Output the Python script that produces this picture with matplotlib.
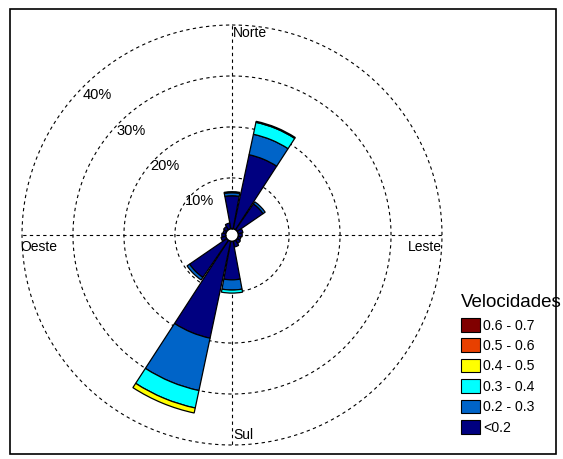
import numpy as np
import matplotlib
matplotlib.use("Agg")
import matplotlib.pyplot as plt
from matplotlib.patches import Patch, Rectangle

plt.rcParams['font.family'] = ['Liberation Sans', 'DejaVu Sans']

# Wind directions (16 sectors, clockwise from north)
directions = ["N", "NNE", "NE", "ENE", "E", "ESE", "SE", "SSE",
              "S", "SSW", "SW", "WSW", "W", "WNW", "NW", "NNW"]

# Frequency (%) per speed class and direction
speed_lt02 = [6.5, 14.9, 6.2, 1.0, 0.8, 0.6, 0.8, 1.2,
              7.6, 19.5, 8.9, 1.0, 0.8, 0.6, 0.8, 1.2]
speed_02_03 = [0.6, 4.1, 0.5, 0, 0, 0, 0, 0,
               2.0, 10.5, 0.6, 0, 0, 0, 0, 0]
speed_03_04 = [0.2, 2.4, 0, 0, 0, 0, 0, 0,
               0.6, 3.5, 0, 0, 0, 0, 0, 0]
speed_04_05 = [0, 0.2, 0, 0, 0, 0, 0, 0,
               0, 1.0, 0, 0, 0, 0, 0, 0]
speed_05_06 = [0] * 16
speed_06_07 = [0] * 16

class_labels = ["<0.2", "0.2 - 0.3", "0.3 - 0.4", "0.4 - 0.5", "0.5 - 0.6", "0.6 - 0.7"]
class_colors = ["#000080", "#0064C8", "#00FFFF", "#FFFF00", "#E84000", "#800000"]
series = [speed_lt02, speed_02_03, speed_03_04, speed_04_05, speed_05_06, speed_06_07]

ring_values = [10, 20, 30, 40]
ring_labels = ["10%", "20%", "30%", "40%"]

W, H = 563, 459
fig = plt.figure(figsize=(W / 100, H / 100), dpi=100)

cx, cy, R = 232, 235, 210
ax = fig.add_axes([(cx - R) / W, (H - cy - R) / H, 2 * R / W, 2 * R / H],
                  projection="polar")
ax.set_theta_zero_location("N")
ax.set_theta_direction(-1)
ax.set_ylim(0, 40)
ax.set_rorigin(-1.2)
ax.grid(False)
ax.spines["polar"].set_visible(False)
ax.set_xticks([])
ax.set_yticks([])
ax.patch.set_alpha(0)

theta = np.deg2rad(np.arange(16) * 22.5)
width = np.deg2rad(21)

# stacked petals
bottom = np.zeros(16)
for vals, col in zip(series, class_colors):
    vals = np.asarray(vals, dtype=float)
    m = vals > 0
    if m.any():
        ax.bar(theta[m], vals[m], width=width, bottom=bottom[m], color=col,
               edgecolor="black", linewidth=0.9, zorder=3)
    bottom += vals

# dashed rings and axes lines
dash = (0, (3, 3))
tt = np.linspace(0, 2 * np.pi, 400)
for v in ring_values:
    ax.plot(tt, np.full_like(tt, v), color="black", lw=0.8, ls=dash, zorder=1, clip_on=False)
for a in [0, 90, 180, 270]:
    ax.plot([np.deg2rad(a)] * 2, [0, 40], color="black", lw=0.8, ls=dash, zorder=1, clip_on=False)
ax.plot(tt, np.zeros_like(tt), color="black", lw=1.2, zorder=4)

# ring labels
for v, lab in zip(ring_values, ring_labels):
    ax.text(np.deg2rad(-44), v - 1.5 - 0.04 * v, lab, ha="center", va="center",
            fontsize=10.5, zorder=5)

# cardinal labels
fs = 10
ax.text(0.5 + 1 / 420, 1 - 1 / 420, "Norte", transform=ax.transAxes, ha="left", va="top", fontsize=fs)
ax.text(0.5 + 1 / 420, 3 / 420, "Sul", transform=ax.transAxes, ha="left", va="bottom", fontsize=fs)
ax.text(-2 / 420, 0.5 - 5 / 420, "Oeste", transform=ax.transAxes, ha="left", va="top", fontsize=fs)
ax.text(1.0, 0.5 - 5 / 420, "Leste", transform=ax.transAxes, ha="right", va="top", fontsize=fs)

# legend
handles = [Patch(facecolor=c, edgecolor="black", linewidth=0.8) for c in class_colors][::-1]
leg = fig.legend(handles, class_labels[::-1], title="Velocidades", loc="upper left",
                 bbox_to_anchor=(461 / W, 1 - 294 / H), frameon=False, borderpad=0,
                 handlelength=1.35, handleheight=1.1, handletextpad=0.2,
                 labelspacing=0.41, fontsize=10.2, title_fontsize=13.5,
                 alignment="left", borderaxespad=0)
leg._legend_box.sep = 5

# figure border
fig.add_artist(Rectangle((9.5 / W, 1 - 453.5 / H), 546 / W, 445 / H, transform=fig.transFigure,
                         fill=False, edgecolor="black", linewidth=1.2))

fig.savefig("out.png", dpi=100)
